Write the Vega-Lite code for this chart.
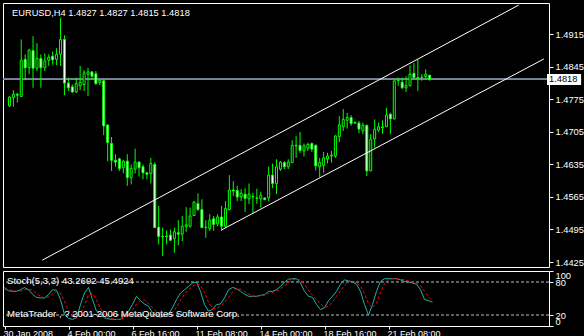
{
  "$schema": "https://vega.github.io/schema/vega-lite/v6.json",
  "background": "black",
  "padding": {"left": 2, "top": 2, "right": 0, "bottom": 0},
  "spacing": 2,
  "config": {
    "view": {"stroke": "white", "strokeWidth": 1},
    "axis": {"labelFont": "Liberation Sans", "labelColor": "white", "tickColor": "white", "domain": false, "grid": false, "labelFontSize": 9.3, "tickWidth": 1, "labelOverlap": false},
    "text": {"font": "Liberation Sans"}
  },
  "datasets": {
    "bars": [
      {"i":0,"o":1.4761,"h":1.4782,"l":1.4759,"c":1.4780},
      {"i":1,"o":1.4779,"h":1.4795,"l":1.4759,"c":1.4786},
      {"i":2,"o":1.4786,"h":1.4789,"l":1.4768,"c":1.4784},
      {"i":3,"o":1.4781,"h":1.4904,"l":1.4780,"c":1.4859},
      {"i":4,"o":1.4861,"h":1.4872,"l":1.4816,"c":1.4843},
      {"i":5,"o":1.4843,"h":1.4884,"l":1.4829,"c":1.4881},
      {"i":6,"o":1.4880,"h":1.4911,"l":1.4800,"c":1.4842},
      {"i":7,"o":1.4842,"h":1.4896,"l":1.4836,"c":1.4863},
      {"i":8,"o":1.4863,"h":1.4872,"l":1.4800,"c":1.4843},
      {"i":9,"o":1.4843,"h":1.4874,"l":1.4836,"c":1.4858},
      {"i":10,"o":1.4859,"h":1.4872,"l":1.4847,"c":1.4866},
      {"i":11,"o":1.4868,"h":1.4878,"l":1.4850,"c":1.4860},
      {"i":12,"o":1.4861,"h":1.4885,"l":1.4849,"c":1.4872},
      {"i":13,"o":1.4872,"h":1.4950,"l":1.4847,"c":1.4904},
      {"i":14,"o":1.4904,"h":1.4913,"l":1.4784,"c":1.4810},
      {"i":15,"o":1.4810,"h":1.4822,"l":1.4793,"c":1.4800},
      {"i":16,"o":1.4802,"h":1.4807,"l":1.4789,"c":1.4791},
      {"i":17,"o":1.4791,"h":1.4822,"l":1.4789,"c":1.4809},
      {"i":18,"o":1.4804,"h":1.4847,"l":1.4795,"c":1.4812},
      {"i":19,"o":1.4807,"h":1.4838,"l":1.4793,"c":1.4832},
      {"i":20,"o":1.4829,"h":1.4843,"l":1.4782,"c":1.4834},
      {"i":21,"o":1.4834,"h":1.4836,"l":1.4818,"c":1.4825},
      {"i":22,"o":1.4830,"h":1.4836,"l":1.4806,"c":1.4809},
      {"i":23,"o":1.4811,"h":1.4816,"l":1.4806,"c":1.4816},
      {"i":24,"o":1.4815,"h":1.4818,"l":1.4698,"c":1.4718},
      {"i":25,"o":1.4720,"h":1.4720,"l":1.4642,"c":1.4682},
      {"i":26,"o":1.4680,"h":1.4694,"l":1.4621,"c":1.4644},
      {"i":27,"o":1.4644,"h":1.4657,"l":1.4630,"c":1.4640},
      {"i":28,"o":1.4647,"h":1.4649,"l":1.4621,"c":1.4626},
      {"i":29,"o":1.4628,"h":1.4645,"l":1.4616,"c":1.4642},
      {"i":30,"o":1.4642,"h":1.4657,"l":1.4589,"c":1.4607},
      {"i":31,"o":1.4607,"h":1.4635,"l":1.4592,"c":1.4626},
      {"i":32,"o":1.4625,"h":1.4669,"l":1.4616,"c":1.4640},
      {"i":33,"o":1.4640,"h":1.4642,"l":1.4609,"c":1.4628},
      {"i":34,"o":1.4630,"h":1.4635,"l":1.4603,"c":1.4617},
      {"i":35,"o":1.4617,"h":1.4619,"l":1.4603,"c":1.4614},
      {"i":36,"o":1.4615,"h":1.4649,"l":1.4594,"c":1.4637},
      {"i":37,"o":1.4635,"h":1.4640,"l":1.4499,"c":1.4499},
      {"i":38,"o":1.4500,"h":1.4546,"l":1.4463,"c":1.4480},
      {"i":39,"o":1.4480,"h":1.4499,"l":1.4438,"c":1.4479},
      {"i":40,"o":1.4479,"h":1.4493,"l":1.4463,"c":1.4481},
      {"i":41,"o":1.4483,"h":1.4495,"l":1.4470,"c":1.4472},
      {"i":42,"o":1.4475,"h":1.4499,"l":1.4445,"c":1.4490},
      {"i":43,"o":1.4488,"h":1.4515,"l":1.4461,"c":1.4485},
      {"i":44,"o":1.4485,"h":1.4524,"l":1.4470,"c":1.4502},
      {"i":45,"o":1.4501,"h":1.4543,"l":1.4490,"c":1.4505},
      {"i":46,"o":1.4502,"h":1.4542,"l":1.4499,"c":1.4524},
      {"i":47,"o":1.4525,"h":1.4556,"l":1.4524,"c":1.4554},
      {"i":48,"o":1.4551,"h":1.4573,"l":1.4535,"c":1.4538},
      {"i":49,"o":1.4538,"h":1.4560,"l":1.4499,"c":1.4499},
      {"i":50,"o":1.4499,"h":1.4515,"l":1.4477,"c":1.4500},
      {"i":51,"o":1.4497,"h":1.4528,"l":1.4492,"c":1.4515},
      {"i":52,"o":1.4518,"h":1.4524,"l":1.4492,"c":1.4506},
      {"i":53,"o":1.4507,"h":1.4528,"l":1.4502,"c":1.4522},
      {"i":54,"o":1.4522,"h":1.4546,"l":1.4492,"c":1.4502},
      {"i":55,"o":1.4502,"h":1.4556,"l":1.4499,"c":1.4540},
      {"i":56,"o":1.4538,"h":1.4612,"l":1.4536,"c":1.4580},
      {"i":57,"o":1.4580,"h":1.4599,"l":1.4567,"c":1.4578},
      {"i":58,"o":1.4579,"h":1.4589,"l":1.4556,"c":1.4565},
      {"i":59,"o":1.4565,"h":1.4582,"l":1.4556,"c":1.4573},
      {"i":60,"o":1.4571,"h":1.4584,"l":1.4533,"c":1.4562},
      {"i":61,"o":1.4561,"h":1.4594,"l":1.4550,"c":1.4571},
      {"i":62,"o":1.4565,"h":1.4574,"l":1.4529,"c":1.4566},
      {"i":63,"o":1.4563,"h":1.4583,"l":1.4550,"c":1.4562},
      {"i":64,"o":1.4561,"h":1.4576,"l":1.4543,"c":1.4569},
      {"i":65,"o":1.4563,"h":1.4563,"l":1.4559,"c":1.4559},
      {"i":66,"o":1.4563,"h":1.4630,"l":1.4556,"c":1.4612},
      {"i":67,"o":1.4612,"h":1.4637,"l":1.4584,"c":1.4594},
      {"i":68,"o":1.4594,"h":1.4646,"l":1.4571,"c":1.4630},
      {"i":69,"o":1.4625,"h":1.4642,"l":1.4621,"c":1.4640},
      {"i":70,"o":1.4639,"h":1.4642,"l":1.4625,"c":1.4630},
      {"i":71,"o":1.4630,"h":1.4646,"l":1.4625,"c":1.4640},
      {"i":72,"o":1.4639,"h":1.4687,"l":1.4639,"c":1.4676},
      {"i":73,"o":1.4675,"h":1.4696,"l":1.4649,"c":1.4676},
      {"i":74,"o":1.4676,"h":1.4705,"l":1.4660,"c":1.4665},
      {"i":75,"o":1.4664,"h":1.4680,"l":1.4652,"c":1.4675},
      {"i":76,"o":1.4670,"h":1.4682,"l":1.4664,"c":1.4678},
      {"i":77,"o":1.4680,"h":1.4682,"l":1.4662,"c":1.4668},
      {"i":78,"o":1.4676,"h":1.4678,"l":1.4622,"c":1.4632},
      {"i":79,"o":1.4630,"h":1.4649,"l":1.4607,"c":1.4639},
      {"i":80,"o":1.4633,"h":1.4662,"l":1.4617,"c":1.4649},
      {"i":81,"o":1.4647,"h":1.4660,"l":1.4637,"c":1.4653},
      {"i":82,"o":1.4653,"h":1.4664,"l":1.4639,"c":1.4655},
      {"i":83,"o":1.4653,"h":1.4698,"l":1.4649,"c":1.4696},
      {"i":84,"o":1.4695,"h":1.4739,"l":1.4683,"c":1.4720},
      {"i":85,"o":1.4716,"h":1.4754,"l":1.4707,"c":1.4732},
      {"i":86,"o":1.4730,"h":1.4746,"l":1.4712,"c":1.4736},
      {"i":87,"o":1.4736,"h":1.4741,"l":1.4718,"c":1.4723},
      {"i":88,"o":1.4724,"h":1.4727,"l":1.4722,"c":1.4726},
      {"i":89,"o":1.4724,"h":1.4729,"l":1.4702,"c":1.4711},
      {"i":90,"o":1.4707,"h":1.4725,"l":1.4700,"c":1.4719},
      {"i":91,"o":1.4719,"h":1.4721,"l":1.4610,"c":1.4621},
      {"i":92,"o":1.4621,"h":1.4700,"l":1.4621,"c":1.4689},
      {"i":93,"o":1.4690,"h":1.4732,"l":1.4671,"c":1.4711},
      {"i":94,"o":1.4709,"h":1.4725,"l":1.4705,"c":1.4716},
      {"i":95,"o":1.4714,"h":1.4730,"l":1.4701,"c":1.4716},
      {"i":96,"o":1.4716,"h":1.4757,"l":1.4716,"c":1.4741},
      {"i":97,"o":1.4743,"h":1.4746,"l":1.4700,"c":1.4733},
      {"i":98,"o":1.4733,"h":1.4815,"l":1.4732,"c":1.4815},
      {"i":99,"o":1.4815,"h":1.4822,"l":1.4804,"c":1.4817},
      {"i":100,"o":1.4812,"h":1.4822,"l":1.4797,"c":1.4800},
      {"i":101,"o":1.4800,"h":1.4825,"l":1.4791,"c":1.4805},
      {"i":102,"o":1.4804,"h":1.4848,"l":1.4804,"c":1.4829},
      {"i":103,"o":1.4831,"h":1.4853,"l":1.4819,"c":1.4822},
      {"i":104,"o":1.4822,"h":1.4861,"l":1.4793,"c":1.4820},
      {"i":105,"o":1.4822,"h":1.4829,"l":1.4815,"c":1.4823},
      {"i":106,"o":1.4824,"h":1.4840,"l":1.4819,"c":1.4829},
      {"i":107,"o":1.4827,"h":1.4827,"l":1.4815,"c":1.4818}
    ],
    "stoch": [
      {"i":0,"k":70,"d":66},{"i":1,"k":64,"d":66},{"i":2,"k":63,"d":65},{"i":3,"k":63,"d":63},{"i":4,"k":66,"d":64},
      {"i":5,"k":70,"d":66},{"i":6,"k":66,"d":67},{"i":7,"k":58,"d":65},{"i":8,"k":52,"d":59},{"i":9,"k":51,"d":54},
      {"i":10,"k":51,"d":51},{"i":11,"k":57,"d":53},{"i":12,"k":66,"d":58},{"i":13,"k":65,"d":63},{"i":14,"k":48,"d":60},
      {"i":15,"k":21,"d":45},{"i":16,"k":14,"d":28},{"i":17,"k":12,"d":16},{"i":18,"k":15,"d":14},{"i":19,"k":39,"d":22},
      {"i":20,"k":60,"d":38},{"i":21,"k":70,"d":56},{"i":22,"k":48,"d":59},{"i":23,"k":27,"d":48},{"i":24,"k":21,"d":32},
      {"i":25,"k":15,"d":21},{"i":26,"k":13,"d":16},{"i":27,"k":12,"d":13},{"i":28,"k":12,"d":12},{"i":29,"k":12,"d":12},
      {"i":30,"k":20,"d":15},{"i":31,"k":27,"d":20},{"i":32,"k":39,"d":29},{"i":33,"k":54,"d":40},{"i":34,"k":46,"d":46},
      {"i":35,"k":40,"d":47},{"i":36,"k":36,"d":41},{"i":37,"k":24,"d":33},{"i":38,"k":18,"d":26},{"i":39,"k":16,"d":19},
      {"i":40,"k":20,"d":18},{"i":41,"k":22,"d":19},{"i":42,"k":33,"d":25},{"i":43,"k":48,"d":34},{"i":44,"k":60,"d":47},
      {"i":45,"k":66,"d":58},{"i":46,"k":72,"d":66},{"i":47,"k":78,"d":72},{"i":48,"k":80,"d":77},{"i":49,"k":63,"d":74},
      {"i":50,"k":39,"d":61},{"i":51,"k":27,"d":43},{"i":52,"k":30,"d":32},{"i":53,"k":39,"d":32},{"i":54,"k":40,"d":36},
      {"i":55,"k":51,"d":43},{"i":56,"k":66,"d":52},{"i":57,"k":70,"d":62},{"i":58,"k":68,"d":68},{"i":59,"k":63,"d":67},
      {"i":60,"k":58,"d":63},{"i":61,"k":54,"d":58},{"i":62,"k":54,"d":55},{"i":63,"k":54,"d":54},{"i":64,"k":56,"d":55},
      {"i":65,"k":57,"d":56},{"i":66,"k":63,"d":59},{"i":67,"k":63,"d":61},{"i":68,"k":66,"d":64},{"i":69,"k":72,"d":67},
      {"i":70,"k":80,"d":73},{"i":71,"k":85,"d":79},{"i":72,"k":86,"d":84},{"i":73,"k":86,"d":86},{"i":74,"k":78,"d":83},
      {"i":75,"k":63,"d":76},{"i":76,"k":54,"d":65},{"i":77,"k":52,"d":56},{"i":78,"k":39,"d":48},{"i":79,"k":30,"d":40},
      {"i":80,"k":33,"d":34},{"i":81,"k":46,"d":36},{"i":82,"k":54,"d":44},{"i":83,"k":63,"d":54},{"i":84,"k":76,"d":64},
      {"i":85,"k":84,"d":74},{"i":86,"k":82,"d":81},{"i":87,"k":80,"d":82},{"i":88,"k":76,"d":79},{"i":89,"k":63,"d":73},
      {"i":90,"k":39,"d":59},{"i":91,"k":20,"d":41},{"i":92,"k":39,"d":33},{"i":93,"k":63,"d":41},{"i":94,"k":81,"d":61},
      {"i":95,"k":86,"d":77},{"i":96,"k":86,"d":84},{"i":97,"k":86,"d":86},{"i":98,"k":86,"d":86},{"i":99,"k":84,"d":85},
      {"i":100,"k":81,"d":84},{"i":101,"k":80,"d":82},{"i":102,"k":78,"d":80},{"i":103,"k":76,"d":78},{"i":104,"k":66,"d":73},
      {"i":105,"k":48,"d":63},{"i":106,"k":46,"d":53},{"i":107,"k":43.2692,"d":45.4924}
    ],
    "channel": [
      {"line":"upper","i":8.35,"p":1.4429},
      {"line":"upper","i":129.7,"p":1.4978},
      {"line":"lower","i":54,"p":1.4494},
      {"line":"lower","i":136.1,"p":1.4862}
    ],
    "levels": [{"v":20},{"v":80}]
  },
  "vconcat": [
    {
      "width": 546,
      "height": 264,
      "layer": [
        {
          "data": {"name": "bars"},
          "mark": {"type": "rule", "color": "#778899", "strokeWidth": 1},
          "encoding": {
            "y": {"datum": 1.4818, "type": "quantitative", "scale": {"domain": [1.44143, 1.49824], "nice": false, "zero": false},
                  "axis": {"orient": "right", "values": [1.4425, 1.4495, 1.4565, 1.4635, 1.4705, 1.4775, 1.4845, 1.4915], "tickCount": 50, "format": ".4f", "tickSize": 4, "labelPadding": 2, "labelBaseline": "middle", "labelOverlap": false, "title": null}}
          }
        },
        {
          "data": {"name": "bars"},
          "mark": {"type": "rule", "color": "#00ff00", "strokeWidth": 1},
          "encoding": {
            "x": {"field": "i", "type": "quantitative", "scale": {"domain": [-0.375, 136.125], "nice": false, "zero": false}, "axis": null},
            "y": {"field": "l", "type": "quantitative"},
            "y2": {"field": "h"}
          }
        },
        {
          "data": {"name": "bars"},
          "mark": {"type": "bar", "width": 2, "stroke": "#00ff00", "strokeWidth": 1},
          "encoding": {
            "x": {"field": "i", "type": "quantitative"},
            "y": {"field": "o", "type": "quantitative"},
            "y2": {"field": "c"},
            "fill": {"condition": {"test": "datum.c < datum.o", "value": "white"}, "value": "black"}
          }
        },
        {
          "data": {"name": "channel"},
          "mark": {"type": "line", "color": "white", "strokeWidth": 1, "clip": true},
          "encoding": {
            "x": {"field": "i", "type": "quantitative"},
            "y": {"field": "p", "type": "quantitative"},
            "detail": {"field": "line"}
          }
        },
        {
          "data": {"values": [{"p": 1.4818}]},
          "mark": {"type": "point", "shape": "M0,-1L6.2,-1L6.2,1L0,1Z", "size": 121, "filled": true, "fill": "white", "strokeWidth": 0, "opacity": 1, "xOffset": 3, "clip": false},
          "encoding": {
            "x": {"datum": 136.125, "type": "quantitative"},
            "y": {"field": "p", "type": "quantitative"}
          }
        },
        {
          "data": {"values": [{"p": 1.4818}]},
          "mark": {"type": "text", "text": "1.4818", "align": "left", "baseline": "middle", "color": "black", "fontSize": 9.3, "dx": 5},
          "encoding": {
            "x": {"datum": 136.125, "type": "quantitative"},
            "y": {"field": "p", "type": "quantitative"}
          }
        },
        {
          "data": {"values": [{"t": "EURUSD,H4  1.4827 1.4827 1.4815 1.4818"}]},
          "mark": {"type": "text", "align": "left", "baseline": "alphabetic", "color": "white", "fontSize": 9.3, "dx": 4, "dy": 13},
          "encoding": {
            "x": {"datum": -0.375, "type": "quantitative"},
            "y": {"datum": 1.49824, "type": "quantitative"},
            "text": {"field": "t"}
          }
        }
      ]
    },
    {
      "width": 546,
      "height": 55,
      "layer": [
        {
          "data": {"name": "levels"},
          "mark": {"type": "rule", "color": "#c0c0c0", "strokeWidth": 1, "strokeDash": [3, 2]},
          "encoding": {
            "y": {"field": "v", "type": "quantitative", "scale": {"domain": [0, 100], "nice": false, "zero": false},
                  "axis": {"orient": "right", "values": [0, 20, 80, 100], "tickCount": 50, "tickSize": 4, "labelPadding": 2, "labelFlush": true, "labelOverlap": false, "title": null}}
          }
        },
        {
          "data": {"name": "stoch"},
          "mark": {"type": "line", "color": "#20b2aa", "strokeWidth": 1},
          "encoding": {
            "x": {"field": "i", "type": "quantitative", "scale": {"domain": [-0.375, 136.125], "nice": false, "zero": false},
                  "axis": {"orient": "bottom", "values": [0, 16, 32, 48, 64, 80, 96], "tickCount": 50, "labelExpr": "['30 Jan 2008','4 Feb 00:00','6 Feb 16:00','11 Feb 08:00','14 Feb 00:00','18 Feb 16:00','21 Feb 08:00'][datum.value/16]", "tickSize": 3, "labelPadding": 0, "labelAlign": "left", "labelBaseline": "top", "labelOffset": -1.5, "labelFontSize": 9, "labelFlush": false, "labelOverlap": false, "title": null}},
            "y": {"field": "k", "type": "quantitative"}
          }
        },
        {
          "data": {"name": "stoch"},
          "mark": {"type": "line", "color": "red", "strokeWidth": 1, "strokeDash": [3, 2]},
          "encoding": {
            "x": {"field": "i", "type": "quantitative"},
            "y": {"field": "d", "type": "quantitative"}
          }
        },
        {
          "data": {"values": [{"t": "Stoch(5,3,3) 43.2692 45.4924", "o": 13}, {"t": "MetaTrader , ? 2001-2006 MetaQuotes Software Corp.", "o": 46}]},
          "mark": {"type": "text", "align": "left", "baseline": "alphabetic", "color": "white", "fontSize": 9.6, "dx": 4},
          "encoding": {
            "x": {"datum": -0.375, "type": "quantitative"},
            "y": {"datum": 100, "type": "quantitative"},
            "yOffset": {"field": "o", "type": "quantitative", "scale": null},
            "text": {"field": "t"}
          }
        }
      ]
    }
  ]
}
